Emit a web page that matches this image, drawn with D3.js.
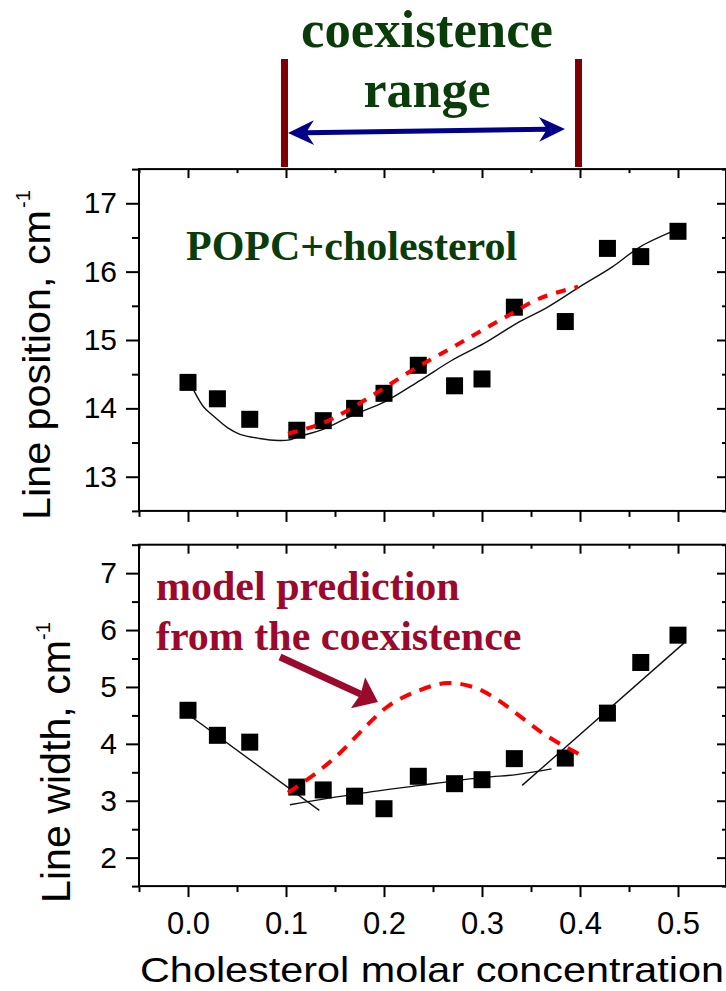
<!DOCTYPE html>
<html>
<head>
<meta charset="utf-8">
<script src="https://cdn.jsdelivr.net/npm/d3@7"></script>
<style>
  body { margin: 0; background: #fff; }
  svg { display: block; }
</style>
</head>
<body>
<svg id="chart" width="726" height="991"></svg>
<script>
//------------------------------------------------------------------------------
//Data
//------------------------------------------------------------------------------
// cholesterol molar fraction of each sample
const conc = [0, 0.03, 0.063, 0.111, 0.138, 0.17, 0.2, 0.235, 0.272, 0.3, 0.333, 0.385, 0.428, 0.462, 0.5];
// measured line position and line width (cm^-1)
const linePos   = [14.38, 14.14, 13.84, 13.68, 13.82, 14.00, 14.22, 14.63, 14.33, 14.43, 15.48, 15.27, 16.34, 16.22, 16.59];
const lineWidth = [4.59, 4.15, 4.03, 3.24, 3.19, 3.08, 2.86, 3.43, 3.30, 3.37, 3.74, 3.75, 4.54, 5.43, 5.91];

// smooth fit through the line positions
const posFitX = [0.006, 0.016, 0.025, 0.041, 0.053, 0.073, 0.092, 0.102, 0.114, 0.139, 0.171, 0.2, 0.237, 0.269, 0.302, 0.335, 0.367, 0.4, 0.433, 0.461, 0.498];
const posFitY = [14.26, 14.02, 13.90, 13.71, 13.62, 13.56, 13.53, 13.535, 13.59, 13.70, 13.92, 14.09, 14.41, 14.70, 14.95, 15.24, 15.48, 15.78, 16.07, 16.36, 16.61];

// model prediction for the coexistence region
const posModelX = [0.102, 0.135, 0.163, 0.196, 0.229, 0.261, 0.294, 0.327, 0.359, 0.398];
const posModelY = [13.63, 13.77, 13.97, 14.26, 14.56, 14.82, 15.09, 15.36, 15.61, 15.78];
const widModelX = [0.102, 0.131, 0.155, 0.18, 0.204, 0.233, 0.265, 0.294, 0.318, 0.343, 0.367, 0.4];
const widModelY = [3.14, 3.49, 3.84, 4.28, 4.66, 4.92, 5.07, 4.98, 4.75, 4.43, 4.13, 3.81];

// three linear pieces fitted to the line widths
const widFitA = [[0.003, 4.48], [0.134, 2.83]];
const widFitB = [[0.104, 2.93], [0.172, 3.12], [0.237, 3.27], [0.302, 3.41], [0.335, 3.46], [0.371, 3.56]];
const widFitC = [[0.341, 3.27], [0.506, 5.77]];

// coexistence range bounds
const coexRange = [0.1, 0.4];

// ticks
const xTicks = [0.0, 0.1, 0.2, 0.3, 0.4, 0.5];
const xMinor = [-0.05, 0.05, 0.15, 0.25, 0.35, 0.45, 0.55];
const posTicks = [13, 14, 15, 16, 17];
const posMinor = [12.5, 13.5, 14.5, 15.5, 16.5, 17.5];
const widTicks = [2, 3, 4, 5, 6, 7];
const widMinor = [1.5, 2.5, 3.5, 4.5, 5.5, 6.5, 7.5];

//------------------------------------------------------------------------------
//Scales
//------------------------------------------------------------------------------
const sans = "'Liberation Sans', Arial, sans-serif";
const serif = "'Liberation Serif', 'Times New Roman', serif";
const green = "#0a3c0a";
const crimson = "#9b0a2d";

const svg = d3.select("#chart");
svg.append("rect").attr("width", 726).attr("height", 991).attr("fill", "#fff");

const x = d3.scaleLinear().domain([-0.05, 0.55]).range([139, 727]);
const yPos = d3.scaleLinear().domain([12.5, 17.5]).range([510.9, 169.1]);
const yWid = d3.scaleLinear().domain([1.5, 7.5]).range([886.1, 544.7]);

function styleAxis(g) {
  g.select(".domain").remove();
  g.selectAll(".tick line").attr("stroke", "#000").attr("stroke-width", 2);
  g.selectAll(".tick text")
    .attr("fill", "#000")
    .style("font-family", sans)
    .style("font-size", "30px");
}

function panel(y, major, minor, labelX) {
  const [yb, yt] = y.range();
  const [xl, xr] = x.range();

  // bottom axis, ticks out
  svg.append("g").attr("transform", `translate(0,${yb})`)
    .call(d3.axisBottom(x).tickValues(xMinor).tickSize(6).tickSizeOuter(0).tickFormat(""))
    .call(styleAxis);
  const xb = svg.append("g").attr("transform", `translate(0,${yb})`)
    .call(d3.axisBottom(x).tickValues(xTicks).tickSize(11).tickSizeOuter(0)
      .tickPadding(15).tickFormat(labelX ? d3.format(".1f") : ""))
    .call(styleAxis);
  xb.selectAll(".tick text").style("font-size", "31px");

  // top axis, ticks in
  svg.append("g").attr("transform", `translate(0,${yt})`)
    .call(d3.axisBottom(x).tickValues(xMinor).tickSize(4).tickSizeOuter(0).tickFormat(""))
    .call(styleAxis);
  svg.append("g").attr("transform", `translate(0,${yt})`)
    .call(d3.axisBottom(x).tickValues(xTicks).tickSize(9).tickSizeOuter(0).tickFormat(""))
    .call(styleAxis);

  // left axis, ticks out
  svg.append("g").attr("transform", `translate(${xl},0)`)
    .call(d3.axisLeft(y).tickValues(minor).tickSize(7).tickSizeOuter(0).tickFormat(""))
    .call(styleAxis);
  svg.append("g").attr("transform", `translate(${xl},0)`)
    .call(d3.axisLeft(y).tickValues(major).tickSize(13).tickSizeOuter(0).tickPadding(9).tickFormat(d3.format("d")))
    .call(styleAxis);

  // right axis, ticks in
  svg.append("g").attr("transform", `translate(${xr - 1},0)`)
    .call(d3.axisLeft(y).tickValues(minor).tickSize(4).tickSizeOuter(0).tickFormat(""))
    .call(styleAxis);
  svg.append("g").attr("transform", `translate(${xr - 1},0)`)
    .call(d3.axisLeft(y).tickValues(major).tickSize(9).tickSizeOuter(0).tickFormat(""))
    .call(styleAxis);

  svg.append("rect")
    .attr("x", xl).attr("y", yt)
    .attr("width", xr - xl - 1).attr("height", yb - yt)
    .attr("fill", "none").attr("stroke", "#000").attr("stroke-width", 2);
}

function drawLine(pts, y, stroke, width, dash) {
  svg.append("path")
    .datum(pts)
    .attr("fill", "none")
    .attr("stroke", stroke)
    .attr("stroke-width", width)
    .attr("stroke-dasharray", dash || null)
    .attr("d", d3.line().x(d => x(d[0])).y(d => y(d[1])).curve(d3.curveCatmullRom));
}

function squares(ys, y) {
  svg.append("g").selectAll("rect")
    .data(conc.map((c, i) => [c, ys[i]]))
    .join("rect")
    .attr("x", d => x(d[0]) - 8.5)
    .attr("y", d => y(d[1]) - 8.5)
    .attr("width", 17).attr("height", 17)
    .attr("fill", "#000");
}

// filled arrow head at (tx,ty) pointing along (ux,uy), with a notch at its back
function head(tx, ty, ux, uy, len, half, notch, color) {
  const px = -uy, py = ux;
  const bx = tx - ux * len, by = ty - uy * len;
  svg.append("path")
    .attr("d", `M${tx},${ty} L${bx + px * half},${by + py * half} L${tx - ux * (len - notch)},${ty - uy * (len - notch)} L${bx - px * half},${by - py * half} Z`)
    .attr("fill", color);
}

// arrow from (x1,y1) to (x2,y2); both=true puts a head on each end
function arrow(x1, y1, x2, y2, w, len, half, notch, color, both) {
  const dx = x2 - x1, dy = y2 - y1, d = Math.hypot(dx, dy);
  const ux = dx / d, uy = dy / d;
  const back = len - notch;
  svg.append("line")
    .attr("x1", both ? x1 + ux * back : x1).attr("y1", both ? y1 + uy * back : y1)
    .attr("x2", x2 - ux * back).attr("y2", y2 - uy * back)
    .attr("stroke", color).attr("stroke-width", w);
  head(x2, y2, ux, uy, len, half, notch, color);
  if (both) head(x1, y1, -ux, -uy, len, half, notch, color);
}

//------------------------------------------------------------------------------
//Top panel: line position
//------------------------------------------------------------------------------
panel(yPos, posTicks, posMinor, false);
drawLine(posFitX.map((v, i) => [v, posFitY[i]]), yPos, "#111", 1.4);
squares(linePos, yPos);
drawLine(posModelX.map((v, i) => [v, posModelY[i]]), yPos, "#ff0000", 4, "10,9");

svg.append("text")
  .attr("x", 186).attr("y", 260)
  .style("font-family", serif).style("font-weight", "bold").style("font-size", "42px")
  .attr("fill", green)
  .text("POPC+cholesterol");

//------------------------------------------------------------------------------
//Bottom panel: line width
//------------------------------------------------------------------------------
panel(yWid, widTicks, widMinor, true);
[widFitA, widFitB, widFitC].forEach(seg => drawLine(seg, yWid, "#111", 1.4));
squares(lineWidth, yWid);
drawLine(widModelX.map((v, i) => [v, widModelY[i]]), yWid, "#ff0000", 4, "12,9");

svg.append("text")
  .attr("x", 156).attr("y", 600)
  .style("font-family", serif).style("font-weight", "bold").style("font-size", "42px")
  .attr("fill", crimson)
  .text("model prediction");
svg.append("text")
  .attr("x", 156).attr("y", 650)
  .style("font-family", serif).style("font-weight", "bold").style("font-size", "42px")
  .attr("fill", crimson)
  .text("from the coexistence");
arrow(280, 657, 378, 702, 7, 22, 17, 3, crimson, false);

//------------------------------------------------------------------------------
//Coexistence range marker above the plots
//------------------------------------------------------------------------------
coexRange.forEach(v => {
  svg.append("rect")
    .attr("x", x(v) - 5).attr("y", 59)
    .attr("width", 7).attr("height", 108)
    .attr("fill", "#7f0000");
});
arrow(x(coexRange[0]) + 2, 133, x(coexRange[1]) - 15, 129, 5, 26, 12.5, 8, "#000088", true);

const midX = (x(coexRange[0]) + x(coexRange[1])) / 2 - 6;
svg.append("text")
  .attr("x", midX).attr("y", 47).attr("text-anchor", "middle")
  .attr("textLength", 252).attr("lengthAdjust", "spacingAndGlyphs")
  .style("font-family", serif).style("font-weight", "bold").style("font-size", "52px")
  .attr("fill", green)
  .text("coexistence");
svg.append("text")
  .attr("x", midX).attr("y", 107).attr("text-anchor", "middle")
  .style("font-family", serif).style("font-weight", "bold").style("font-size", "52px")
  .attr("fill", green)
  .text("range");

//------------------------------------------------------------------------------
//Axis titles
//------------------------------------------------------------------------------
function yTitle(label, bx, by, size, len, sx, sy) {
  svg.append("text")
    .attr("transform", `translate(${bx},${by}) rotate(-90)`)
    .attr("textLength", len).attr("lengthAdjust", "spacingAndGlyphs")
    .style("font-family", sans).style("font-size", size + "px")
    .attr("fill", "#000")
    .text(label);
  svg.append("text")
    .attr("transform", `translate(${sx},${sy}) rotate(-90)`)
    .style("font-family", sans).style("font-size", "20px")
    .attr("fill", "#000")
    .text("-1");
}
yTitle("Line position, cm", 50, 520, 39, 310, 30, 208);
yTitle("Line width, cm", 70, 903, 41, 263, 50, 640);

svg.append("text")
  .attr("x", 140).attr("y", 982)
  .attr("textLength", 584).attr("lengthAdjust", "spacingAndGlyphs")
  .style("font-family", sans).style("font-size", "35px")
  .attr("fill", "#000")
  .text("Cholesterol molar concentration");
</script>
</body>
</html>
